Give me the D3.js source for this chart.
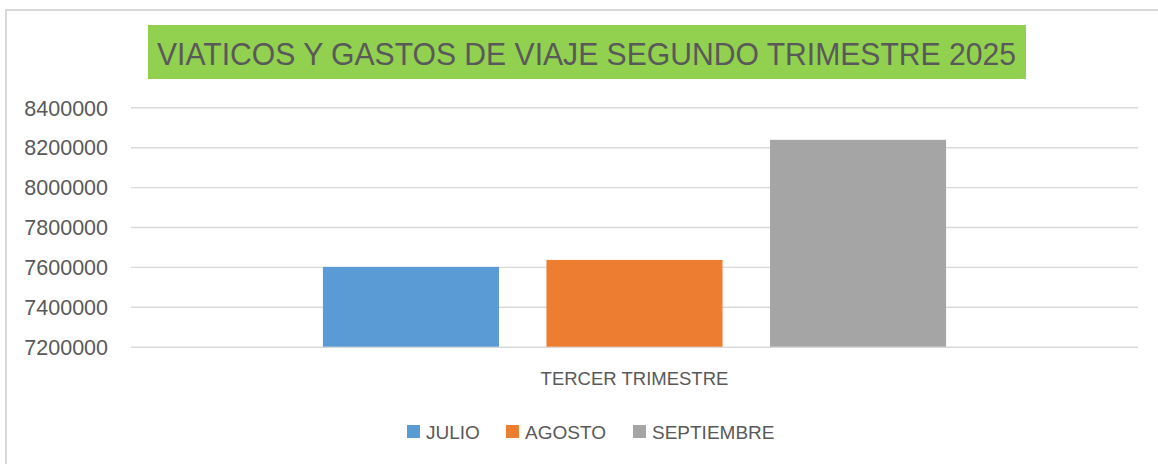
<!DOCTYPE html>
<html>
<head>
<meta charset="utf-8">
<script src="https://cdn.jsdelivr.net/npm/d3@7"></script>
<style>
  html, body { margin: 0; padding: 0; background: #fff; }
  svg { display: block; font-family: "Liberation Sans", Arial, sans-serif; }
</style>
</head>
<body>
<svg id="chart" width="1158" height="464"></svg>
<script>
const title = "VIATICOS Y GASTOS DE VIAJE SEGUNDO TRIMESTRE 2025";
const categories = ["TERCER TRIMESTRE"];
const seriesNames = ["JULIO", "AGOSTO", "SEPTIEMBRE"];
const seriesValues = [7600000, 7635000, 8237000];
const seriesColors = ["#5b9bd5", "#ed7d31", "#a5a5a5"];
const yTicks = [7200000, 7400000, 7600000, 7800000, 8000000, 8200000, 8400000];

const svg = d3.select("#chart");
const textColor = "#595959";
const gridColor = "#d9d9d9";

// chart border
svg.append("rect")
  .attr("x", 6).attr("y", 10).attr("width", 1170).attr("height", 470)
  .attr("fill", "none").attr("stroke", gridColor).attr("stroke-width", 2);

// title
svg.append("rect")
  .attr("x", 148).attr("y", 25).attr("width", 878).attr("height", 54)
  .attr("fill", "#92d050");
svg.append("text")
  .attr("x", 157).attr("y", 65)
  .attr("font-size", 31)
  .attr("fill", textColor)
  .attr("textLength", 859)
  .attr("lengthAdjust", "spacingAndGlyphs")
  .text(title);

const plotLeft = 131, plotRight = 1138, plotTop = 107.3, plotBottom = 346.7;

const y = d3.scaleLinear().domain([7200000, 8400000]).range([plotBottom, plotTop]);
const x0 = d3.scaleBand().domain(categories).range([plotLeft, plotRight])
  .paddingInner(0).paddingOuter(0.308);
const x1 = d3.scaleBand().domain(seriesNames).range([0, x0.bandwidth()])
  .paddingInner(0.2125).paddingOuter(0);

// gridlines + y labels via axis
const yAxis = d3.axisLeft(y).tickValues(yTicks)
  .tickSize(-(plotRight - plotLeft)).tickPadding(23)
  .tickFormat(d3.format("d"));
const gy = svg.append("g").attr("transform", `translate(${plotLeft},0)`).call(yAxis);
gy.select(".domain").remove();
gy.selectAll(".tick line").attr("stroke", gridColor).attr("stroke-width", 1.4);
gy.selectAll(".tick text")
  .attr("fill", textColor)
  .attr("font-size", 21.5)
  .attr("font-family", "Liberation Sans, Arial, sans-serif")
  .attr("dy", "0.36em");

// bars
const data = seriesNames.map((s, i) => ({ cat: categories[0], name: s, value: seriesValues[i], color: seriesColors[i] }));
svg.append("g").selectAll("rect")
  .data(data).join("rect")
  .attr("x", d => x0(d.cat) + x1(d.name))
  .attr("y", d => y(d.value))
  .attr("width", x1.bandwidth())
  .attr("height", d => y(7200000) - y(d.value))
  .attr("fill", d => d.color);

// category label
svg.append("g").selectAll("text")
  .data(categories).join("text")
  .attr("x", d => x0(d) + x0.bandwidth() / 2)
  .attr("y", 385)
  .attr("text-anchor", "middle")
  .attr("font-size", 18.5)
  .attr("fill", textColor)
  .text(d => d);

// legend
const legendX = [407, 506, 633];
const lg = svg.append("g");
const items = lg.selectAll("g").data(data).join("g")
  .attr("transform", (d, i) => `translate(${legendX[i]},0)`);
items.append("rect")
  .attr("x", 0).attr("y", 425).attr("width", 13).attr("height", 13)
  .attr("fill", d => d.color);
items.append("text")
  .attr("x", 19).attr("y", 438.5)
  .attr("font-size", 19)
  .attr("fill", textColor)
  .text(d => d.name);
</script>
</body>
</html>
